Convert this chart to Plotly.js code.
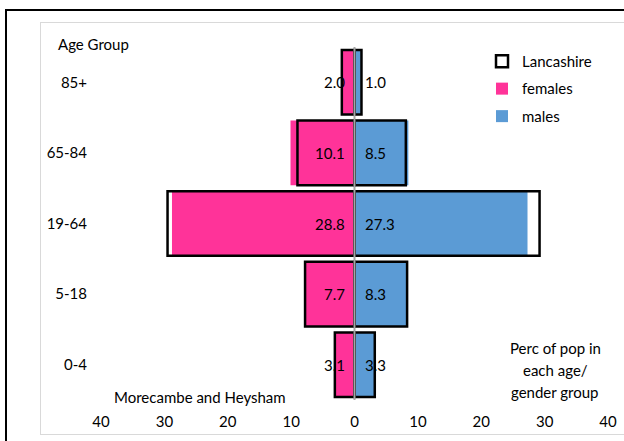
<!DOCTYPE html>
<html><head><meta charset="utf-8">
<script src="https://cdn.plot.ly/plotly-3.0.1.min.js"></script>
<style>
html,body{margin:0;padding:0;background:#fff;overflow:hidden;width:624px;height:441px}
#outer{position:absolute;left:5px;top:9px;width:700px;height:500px;border:2.5px solid #000;box-sizing:border-box}
#inner{position:absolute;left:40px;top:22px;width:700px;height:413px;border:1px solid #d9d9d9;box-sizing:border-box}
#chart{position:absolute;left:0;top:0;width:624px;height:441px}
</style></head>
<body>
<div id="outer"></div><div id="inner"></div><div id="chart"></div>
<script>
const ageGroups = ['0-4','5-18','19-64','65-84','85+'];
const females = [3.1, 7.7, 28.8, 10.1, 2.0];
const males = [3.3, 8.3, 27.3, 8.5, 1.0];
const lancFemales = [3.1, 7.8, 29.5, 9.0, 2.0];
const lancMales = [3.2, 8.3, 29.2, 8.1, 1.1];
const xTickVals = [-40, -30, -20, -10, 0, 10, 20, 30, 40];
const xTickText = ['40', '30', '20', '10', '0', '10', '20', '30', '40'];
const seriesNames = ['Lancashire', 'females', 'males'];
const titleText = 'Morecambe and Heysham';
const yTitleText = 'Age Group';
const xTitleLines = ['Perc of pop in', 'each age/', 'gender group'];

const FONT = 'Lato, "Open Sans", sans-serif';
const PINK = '#FF3399', BLUE = '#5B9BD5';

const neg = a => a.map(v => -v);

const traces = [
  {type:'bar', orientation:'h', y:ageGroups, x:neg(females), name:seriesNames[1],
   marker:{color:PINK, line:{width:0}}, legendgroup:'f', legendrank:2, hoverinfo:'skip'},
  {type:'bar', orientation:'h', y:ageGroups, x:males, name:seriesNames[2],
   marker:{color:BLUE, line:{width:0}}, legendgroup:'m', legendrank:3, hoverinfo:'skip'},
  {type:'bar', orientation:'h', y:ageGroups, x:neg(lancFemales), name:seriesNames[0],
   marker:{color:'rgba(0,0,0,0)', line:{color:'#000', width:2.5}}, legendgroup:'l', legendrank:1, hoverinfo:'skip'},
  {type:'bar', orientation:'h', y:ageGroups, x:lancMales, name:seriesNames[0], showlegend:false,
   marker:{color:'rgba(0,0,0,0)', line:{color:'#000', width:2.5}}, legendgroup:'l', legendrank:1, hoverinfo:'skip'}
];

const annotations = [];
ageGroups.forEach((g, i) => {
  annotations.push({x:0, y:g, xref:'x', yref:'y', text:females[i].toFixed(1), showarrow:false,
    xanchor:'right', xshift:-8, font:{family:FONT, size:15, color:'#000'}});
  annotations.push({x:0, y:g, xref:'x', yref:'y', text:males[i].toFixed(1), showarrow:false,
    xanchor:'left', xshift:8, font:{family:FONT, size:15, color:'#000'}});
});
annotations.push({x:-0.0888, y:1.0085, xref:'paper', yref:'paper', text:yTitleText, showarrow:false,
  xanchor:'left', yanchor:'middle', font:{family:FONT, size:15, color:'#000'}});
annotations.push({x:0.022, y:0.0085, xref:'paper', yref:'paper', text:titleText, showarrow:false,
  xanchor:'left', yanchor:'middle', font:{family:FONT, size:15, color:'#000'}});
const perLineY = [0.1473, 0.0850, 0.0227];
xTitleLines.forEach((t, i) => {
  annotations.push({x:0.8955, y:perLineY[i], xref:'paper', yref:'paper', text:t, showarrow:false,
    xanchor:'center', yanchor:'middle', font:{family:FONT, size:15, color:'#000'}});
});

const layout = {
  width:624, height:441,
  margin:{l:101, r:16, t:47, b:41, pad:0},
  paper_bgcolor:'rgba(0,0,0,0)', plot_bgcolor:'rgba(0,0,0,0)',
  font:{family:FONT, size:15, color:'#000'},
  barmode:'overlay', bargap:0.085,
  xaxis:{range:[-40,40], tickvals:xTickVals, ticktext:xTickText, showgrid:false, zeroline:false,
    showline:false, ticks:'', ticklabelstandoff:11, tickfont:{family:FONT, size:15, color:'#000'}, fixedrange:true},
  yaxis:{type:'category', categoryorder:'array', categoryarray:ageGroups, showgrid:false, zeroline:false,
    showline:false, ticks:'', ticklabelstandoff:13, tickfont:{family:FONT, size:15, color:'#000'}, fixedrange:true},
  shapes:[{type:'line', xref:'x', yref:'paper', x0:0, x1:0, y0:0, y1:1, layer:'above',
    line:{color:'#A6A6A6', width:2}}],
  legend:{x:0.7515, y:1.006, xanchor:'left', yanchor:'top', bgcolor:'rgba(0,0,0,0)', traceorder:'grouped',
    tracegroupgap:5, font:{family:FONT, size:15, color:'#000'}},
  annotations:annotations,
  showlegend:true
};

Plotly.newPlot('chart', traces, layout, {staticPlot:true, displayModeBar:false});
</script>
</body></html>
